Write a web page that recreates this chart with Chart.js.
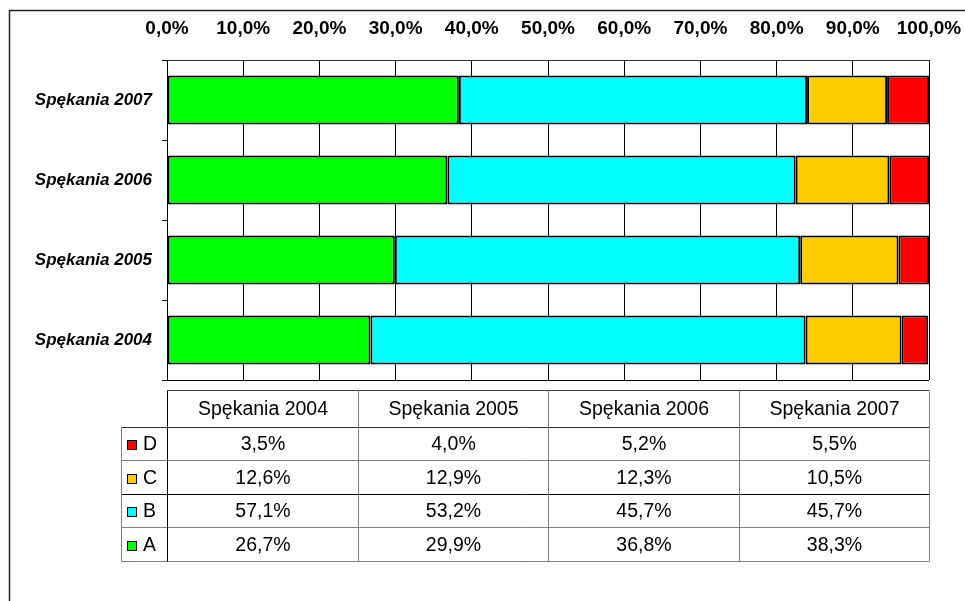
<!DOCTYPE html>
<html>
<head>
<meta charset="utf-8">
<script src="https://cdn.jsdelivr.net/npm/chart.js@4/dist/chart.umd.min.js"></script>
<style>
  html, body { margin: 0; padding: 0; background: #fff; }
  #wrap { width: 965px; height: 601px; }
</style>
</head>
<body>
<div id="wrap"><canvas id="chart-cracks"></canvas></div>
<script>
// data (table order, 2004 -> 2007)
const YEARS = ['Spękania 2004', 'Spękania 2005', 'Spękania 2006', 'Spękania 2007'];
const SERIES = ['A', 'B', 'C', 'D'];
const A_VALUES = [26.7, 29.9, 36.8, 38.3];
const B_VALUES = [57.1, 53.2, 45.7, 45.7];
const C_VALUES = [12.6, 12.9, 12.3, 10.5];
const D_VALUES = [3.5, 4.0, 5.2, 5.5];
const X_TICKS = [0, 10, 20, 30, 40, 50, 60, 70, 80, 90, 100];

const COLORS = { A: '#00ff00', B: '#00ffff', C: '#ffcc00', D: '#ff0000' };
const VALUES = { A: A_VALUES, B: B_VALUES, C: C_VALUES, D: D_VALUES };

const fmt = v => v.toFixed(1).replace('.', ',') + '%';

// chart lists 2007 on top, so reverse everything for the bars
const labels = YEARS.slice().reverse();

const datasets = SERIES.map(s => ({
    label: s,
    data: VALUES[s].slice().reverse(),
    backgroundColor: COLORS[s],
    borderColor: '#000',
    borderWidth: 2,
    borderSkipped: false,
    barPercentage: 0.61,
    categoryPercentage: 1
}));

// frame + bottom line of plot + data table under the chart
const tablePlugin = {
    id: 'dataTable',
    beforeDraw(chart) {
        const ctx = chart.ctx;
        ctx.save();
        ctx.fillStyle = '#fff';
        ctx.fillRect(0, 0, chart.width, chart.height);
        ctx.strokeStyle = '#222';
        ctx.lineWidth = 1.5;
        ctx.strokeRect(9.5, 10.5, 2000, 2000);
        ctx.restore();
    },
    afterDraw(chart) {
        const ctx = chart.ctx;
        const area = chart.chartArea;
        const xs = chart.scales.x;
        ctx.save();

        // bottom edge of plot area
        ctx.strokeStyle = '#000';
        ctx.lineWidth = 1;
        ctx.beginPath();
        ctx.moveTo(area.left, Math.round(area.bottom) + 0.5);
        ctx.lineTo(area.right, Math.round(area.bottom) + 0.5);
        ctx.stroke();

        const cols = [0, 25, 50, 75, 100].map(v => Math.round(xs.getPixelForValue(v)) + 0.5);
        const legLeft = 121.5;
        const top = Math.round(area.bottom) + 10.5;
        const headH = 36;
        const rowH = 33.5;
        const rows = SERIES.slice().reverse(); // D, C, B, A
        const rowY = i => Math.round(top + headH + i * rowH) + 0.5;
        const bottom = rowY(rows.length);

        const line = (x1, y1, x2, y2, c) => {
            ctx.strokeStyle = c;
            ctx.beginPath();
            ctx.moveTo(x1, y1);
            ctx.lineTo(x2, y2);
            ctx.stroke();
        };

        // horizontal lines
        line(cols[0], top, cols[4], top, '#404040');
        line(legLeft, rowY(0), cols[4], rowY(0), '#333');
        for (let i = 1; i < rows.length; i++) {
            line(legLeft, rowY(i), cols[4], rowY(i), i === 2 ? '#000' : '#808080');
        }
        line(legLeft, bottom, cols[4], bottom, '#808080');

        // vertical lines
        line(legLeft, rowY(0), legLeft, bottom, '#808080');
        line(cols[0], top, cols[0], bottom, '#000');
        for (let c = 1; c < cols.length; c++) {
            line(cols[c], top, cols[c], bottom, '#808080');
        }

        ctx.fillStyle = '#000';
        ctx.font = '19.5px "Liberation Sans", Arial, sans-serif';
        ctx.textAlign = 'center';
        ctx.textBaseline = 'middle';

        // header
        YEARS.forEach((y, j) => {
            ctx.fillText(y, (cols[j] + cols[j + 1]) / 2, top + headH / 2 + 1);
        });

        // rows
        rows.forEach((s, i) => {
            const cy = (rowY(i) + rowY(i + 1)) / 2 + 1;
            ctx.fillStyle = COLORS[s];
            ctx.fillRect(127, Math.round(cy) - 5, 10, 10);
            ctx.strokeStyle = '#000';
            ctx.strokeRect(127.5, Math.round(cy) - 4.5, 9, 9);
            ctx.fillStyle = '#000';
            ctx.textAlign = 'left';
            ctx.fillText(s, 143, cy);
            ctx.textAlign = 'center';
            VALUES[s].forEach((v, j) => {
                ctx.fillText(fmt(v), (cols[j] + cols[j + 1]) / 2, cy);
            });
        });

        ctx.restore();
    }
};

const ctx = document.getElementById('chart-cracks');

new Chart(ctx, {
    type: 'bar',
    data: { labels: labels, datasets: datasets },
    options: {
        indexAxis: 'y',
        responsive: true,
        maintainAspectRatio: false,
        animation: false,
        layout: { padding: { left: 0, top: 0, right: 36, bottom: 221 } },
        plugins: {
            legend: { display: false },
            tooltip: { enabled: false },
            title: { display: false }
        },
        scales: {
            x: {
                position: 'top',
                stacked: true,
                min: 0,
                max: 100,
                afterBuildTicks: scale => { scale.ticks = X_TICKS.map(v => ({ value: v })); },
                afterFit: scale => {
                    scale.height = 60;
                    scale.paddingLeft = 0;
                    scale.paddingRight = 0;
                },
                ticks: {
                    callback: v => fmt(v),
                    color: '#000',
                    padding: 20,
                    maxRotation: 0,
                    autoSkip: false,
                    font: { family: '"Liberation Sans", Arial, sans-serif', size: 19, weight: 'bold' }
                },
                grid: { color: '#000', drawTicks: false, lineWidth: 1 },
                border: { display: true, color: '#333' }
            },
            y: {
                stacked: true,
                afterFit: scale => { scale.width = 167; },
                ticks: {
                    color: '#000',
                    padding: 10,
                    font: { family: '"Liberation Sans", Arial, sans-serif', size: 17, weight: 'bold', style: 'italic' }
                },
                grid: { offset: true, drawOnChartArea: false, drawTicks: true, tickLength: 5, color: '#000' },
                border: { display: true, color: '#000' }
            }
        }
    },
    plugins: [tablePlugin]
});
</script>
</body>
</html>
